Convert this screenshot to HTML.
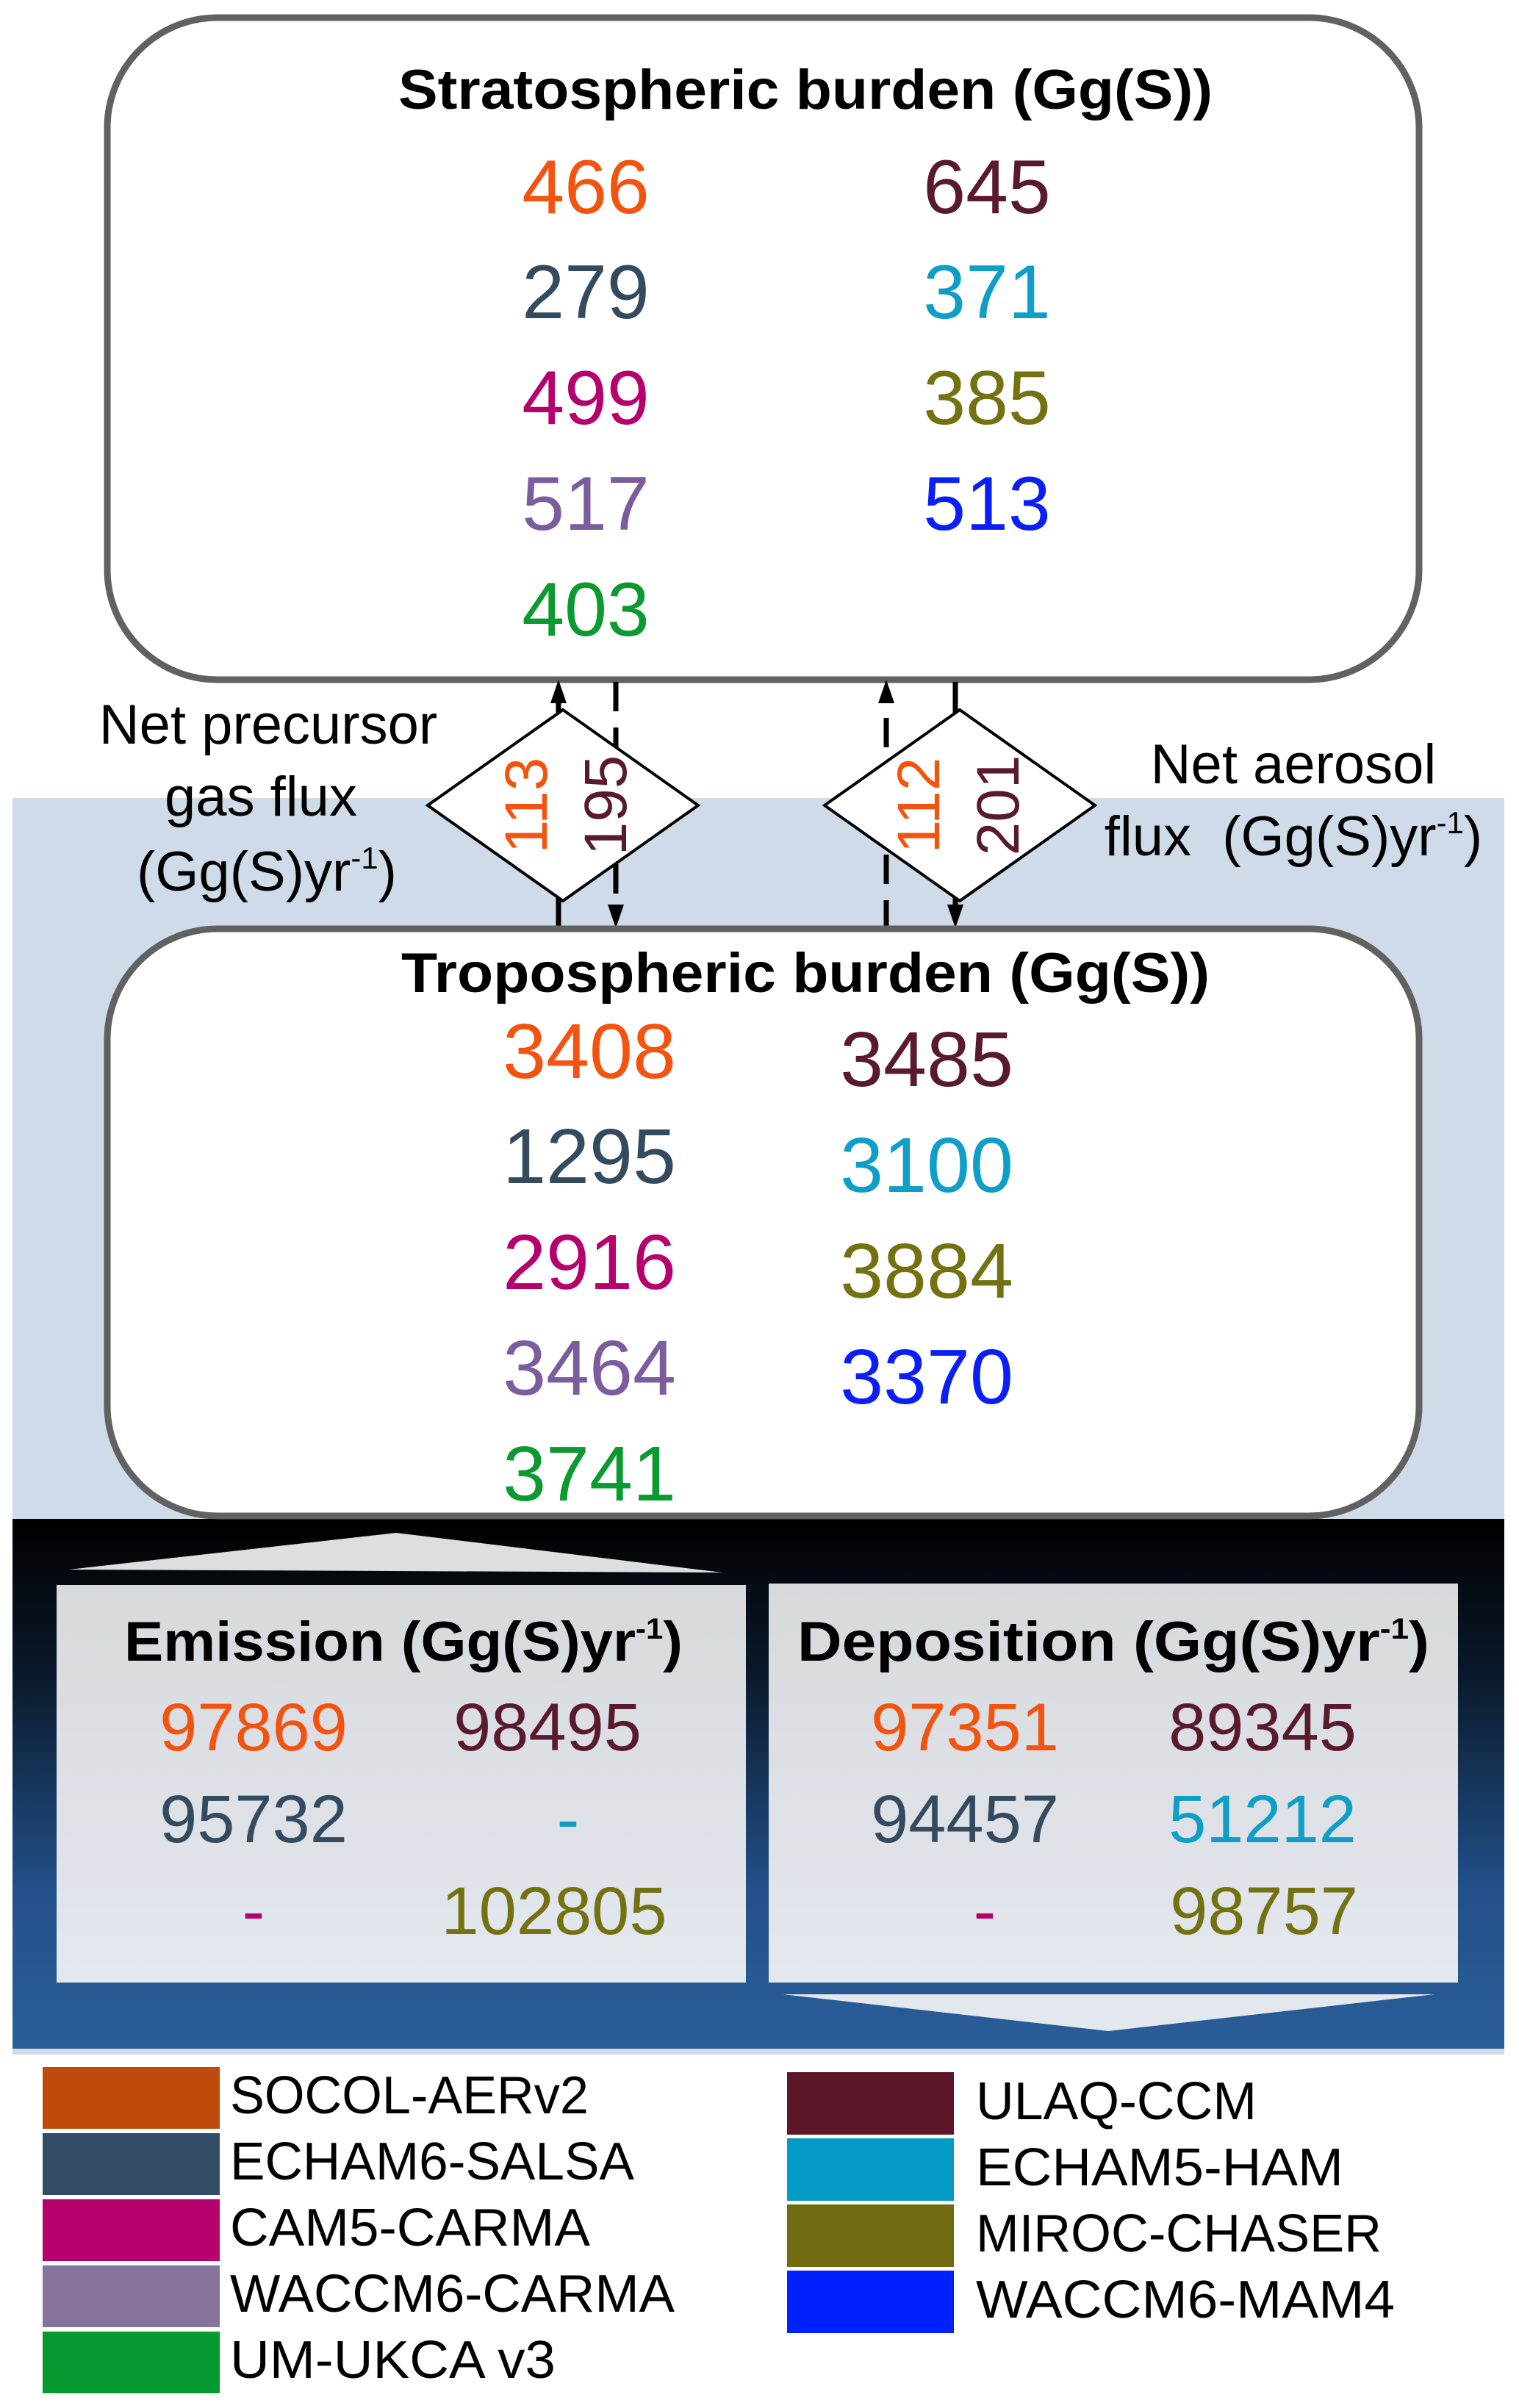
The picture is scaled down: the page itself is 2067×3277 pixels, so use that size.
<!DOCTYPE html>
<html><head><meta charset="utf-8"><style>html,body{margin:0;padding:0;background:#fff}svg{display:block}</style></head><body>
<svg width="2067" height="3277" viewBox="0 0 2067 3277" xmlns="http://www.w3.org/2000/svg" font-family="Liberation Sans, sans-serif">
<defs>
<linearGradient id="dk" x1="0" y1="0" x2="0" y2="1">
<stop offset="0" stop-color="#000000"/><stop offset="0.3" stop-color="#0a1a2c"/><stop offset="0.7" stop-color="#22508a"/><stop offset="1" stop-color="#2a5e98"/></linearGradient>
<linearGradient id="gb" x1="0" y1="0" x2="0" y2="1">
<stop offset="0" stop-color="#d7d9dc"/><stop offset="1" stop-color="#e3e8ef"/></linearGradient>
</defs>
<rect x="17" y="1086" width="2030" height="981" fill="#cfdbe8"/>
<rect x="17" y="2067" width="2030" height="721" fill="url(#dk)"/>
<rect x="17" y="2788" width="2030" height="8" fill="#cfdbe8"/>

<rect x="146" y="24" width="1785" height="901" rx="150" ry="150" fill="#fff" stroke="#616161" stroke-width="9"/>
<text x="1096" y="148" font-size="76" font-weight="bold" text-anchor="middle" textLength="1108" lengthAdjust="spacingAndGlyphs">Stratospheric burden (Gg(S))</text>
<g font-size="104" text-anchor="middle">
<text x="797" y="290" fill="#f4530f">466</text>
<text x="797" y="433" fill="#344a5f">279</text>
<text x="797" y="577" fill="#b5006e">499</text>
<text x="797" y="721" fill="#7b5c9e">517</text>
<text x="797" y="865" fill="#0a9a2f">403</text>
<text x="1343" y="290" fill="#5a1a2e">645</text>
<text x="1343" y="433" fill="#0e9ec8">371</text>
<text x="1343" y="577" fill="#737110">385</text>
<text x="1343" y="721" fill="#0a1ff5">513</text>
</g>

<g stroke="#000" stroke-width="7" fill="none">
<line x1="760" y1="1265" x2="760" y2="945"/>
<line x1="838" y1="928" x2="838" y2="1245" stroke-dasharray="40,22"/>
<line x1="1206" y1="1265" x2="1206" y2="945" stroke-dasharray="40,22"/>
<line x1="1300" y1="928" x2="1300" y2="1245"/>
</g>
<path d="M760,925 l-11,32 h22 z" fill="#000"/>
<path d="M838,1263 l-11,-32 h22 z" fill="#000"/>
<path d="M1206,925 l-11,32 h22 z" fill="#000"/>
<path d="M1300,1263 l-11,-32 h22 z" fill="#000"/>

<path d="M766,966 L950,1096 L766,1226 L582,1096 Z" fill="#fff" stroke="#000" stroke-width="4"/>
<path d="M1306,966 L1490,1096 L1306,1226 L1122,1096 Z" fill="#fff" stroke="#000" stroke-width="4"/>
<g font-size="82" text-anchor="middle">
<text transform="translate(744,1096) rotate(-90)" fill="#f4530f">113</text>
<text transform="translate(852,1096) rotate(-90)" fill="#5a1a2e">195</text>
<text transform="translate(1278,1096) rotate(-90)" fill="#f4530f">112</text>
<text transform="translate(1386,1096) rotate(-90)" fill="#5a1a2e">201</text>
</g>
<g font-size="76" text-anchor="middle">
<text x="365" y="1012">Net precursor</text>
<text x="355" y="1110">gas flux</text>
<text x="363" y="1212">(Gg(S)yr<tspan font-size="42" dy="-30">-1</tspan><tspan dy="30">)</tspan></text>
<text x="1760" y="1066">Net aerosol</text>
<text x="1760" y="1164" xml:space="preserve">flux  (Gg(S)yr<tspan font-size="42" dy="-30">-1</tspan><tspan dy="30">)</tspan></text>
</g>

<rect x="146" y="1264" width="1785" height="799" rx="150" ry="150" fill="#fff" stroke="#616161" stroke-width="9"/>
<text x="1096" y="1350" font-size="76" font-weight="bold" text-anchor="middle" textLength="1100" lengthAdjust="spacingAndGlyphs">Tropospheric burden (Gg(S))</text>
<g font-size="106" text-anchor="middle">
<text x="802" y="1467" fill="#f4530f">3408</text>
<text x="802" y="1610" fill="#344a5f">1295</text>
<text x="802" y="1754" fill="#b5006e">2916</text>
<text x="802" y="1898" fill="#7b5c9e">3464</text>
<text x="802" y="2042" fill="#0a9a2f">3741</text>
<text x="1261" y="1478" fill="#5a1a2e">3485</text>
<text x="1261" y="1622" fill="#0e9ec8">3100</text>
<text x="1261" y="1766" fill="#737110">3884</text>
<text x="1261" y="1910" fill="#0a1ff5">3370</text>
</g>

<path d="M94,2136 L539,2086 L983,2140 Z" fill="#dcdee1"/>
<path d="M1065,2714 L1952,2714 L1508,2764 Z" fill="#e3e8ef"/>
<rect x="77" y="2157" width="938" height="541" fill="url(#gb)"/>
<rect x="1046" y="2155" width="938" height="543" fill="url(#gb)"/>
<g font-size="76" font-weight="bold" text-anchor="middle">
<text x="549" y="2260" textLength="760" lengthAdjust="spacingAndGlyphs">Emission (Gg(S)yr<tspan font-size="40" dy="-30">-1</tspan><tspan dy="30">)</tspan></text>
<text x="1515" y="2260" textLength="860" lengthAdjust="spacingAndGlyphs">Deposition  (Gg(S)yr<tspan font-size="40" dy="-30">-1</tspan><tspan dy="30">)</tspan></text>
</g>
<g font-size="92" text-anchor="middle">
<text x="345" y="2382" fill="#f4530f">97869</text>
<text x="345" y="2507" fill="#344a5f">95732</text>
<text x="345" y="2632" fill="#b5006e">-</text>
<text x="745" y="2382" fill="#5a1a2e">98495</text>
<text x="773" y="2507" fill="#0e9ec8">-</text>
<text x="754" y="2632" fill="#737110">102805</text>
<text x="1313" y="2382" fill="#f4530f">97351</text>
<text x="1313" y="2507" fill="#344a5f">94457</text>
<text x="1340" y="2632" fill="#b5006e">-</text>
<text x="1718" y="2382" fill="#5a1a2e">89345</text>
<text x="1718" y="2507" fill="#0e9ec8">51212</text>
<text x="1720" y="2632" fill="#737110">98757</text>
</g>

<rect x="58" y="2813" width="241" height="84" fill="#bf4a0c"/>
<rect x="58" y="2903" width="241" height="84" fill="#344d66"/>
<rect x="58" y="2993" width="241" height="84" fill="#b5006d"/>
<rect x="58" y="3083" width="241" height="84" fill="#84739a"/>
<rect x="58" y="3173" width="241" height="84" fill="#069930"/>
<rect x="1071" y="2820" width="227" height="85" fill="#5f1628"/>
<rect x="1071" y="2910" width="227" height="85" fill="#039bc6"/>
<rect x="1071" y="3000" width="227" height="85" fill="#706b10"/>
<rect x="1071" y="3090" width="227" height="85" fill="#0021ff"/>
<g font-size="72">
<text x="313" y="2876" textLength="488" lengthAdjust="spacingAndGlyphs">SOCOL-AERv2</text>
<text x="313" y="2966" textLength="550" lengthAdjust="spacingAndGlyphs">ECHAM6-SALSA</text>
<text x="313" y="3056" textLength="490" lengthAdjust="spacingAndGlyphs">CAM5-CARMA</text>
<text x="313" y="3146" textLength="605" lengthAdjust="spacingAndGlyphs">WACCM6-CARMA</text>
<text x="313" y="3236" textLength="443" lengthAdjust="spacingAndGlyphs">UM-UKCA v3</text>
<text x="1328" y="2884" textLength="382" lengthAdjust="spacingAndGlyphs">ULAQ-CCM</text>
<text x="1328" y="2974" textLength="500" lengthAdjust="spacingAndGlyphs">ECHAM5-HAM</text>
<text x="1328" y="3064" textLength="552" lengthAdjust="spacingAndGlyphs">MIROC-CHASER</text>
<text x="1328" y="3154" textLength="570" lengthAdjust="spacingAndGlyphs">WACCM6-MAM4</text>
</g>
</svg>
</body></html>
